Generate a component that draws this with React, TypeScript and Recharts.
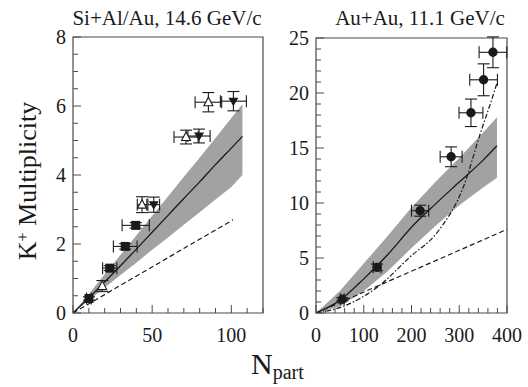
import React from "react";
import {
  ComposedChart,
  Area,
  Line,
  Scatter,
  ErrorBar,
  XAxis,
  YAxis,
  ReferenceArea,
} from "recharts";

const FONT = "'Liberation Serif', 'Times New Roman', serif";
const INK = "#1a1a1a";
const FRAME = "#4a4a4a";
const BAND = "#a2a2a2";

// ---- Si+Al/Au, 14.6 GeV/c ----
const siModelN = [0, 10, 20, 30, 40, 50, 60, 70, 80, 90, 100, 107];
const siModelLow = [0, 0.37, 0.73, 1.1, 1.46, 1.83, 2.19, 2.56, 2.92, 3.29, 3.65, 4.0];
const siModelHigh = [0, 0.55, 1.12, 1.68, 2.25, 2.82, 3.38, 3.95, 4.5, 5.07, 5.65, 6.05];
const siModelMid = [0, 0.44, 0.9, 1.37, 1.85, 2.34, 2.83, 3.32, 3.8, 4.3, 4.78, 5.12];
const siDashN = [0, 101];
const siDashK = [0, 2.7];

const siSquareN = [10.1, 23.2, 33, 39.6];
const siSquareK = [0.42, 1.3, 1.93, 2.54];
const siSquareEx = [1.5, 4.5, 7.5, 8.6];
const siSquareEy = [0.05, 0.07, 0.08, 0.08];

const siOpenTriN = [18.5, 43.6, 71.4, 85.5];
const siOpenTriK = [0.78, 3.14, 5.1, 6.11];
const siOpenTriEx = [0, 3, 7.6, 8.4];
const siOpenTriEy = [0.16, 0.23, 0.2, 0.28];

const siDownTriN = [51, 79.6, 101.3];
const siDownTriK = [3.14, 5.13, 6.14];
const siDownTriEx = [3.7, 7, 8.2];
const siDownTriEy = [0.22, 0.2, 0.28];

const siXMajor = [0, 50, 100];
const siYMajor = [0, 2, 4, 6, 8];

// ---- Au+Au, 11.1 GeV/c ----
const auModelN = [0, 50, 100, 150, 200, 250, 300, 350, 379];
const auModelLow = [0, 0.6, 2.0, 3.8, 5.9, 7.9, 9.8, 11.4, 12.3];
const auModelHigh = [0, 2.0, 4.5, 7.0, 9.6, 11.9, 14.1, 16.4, 17.8];
const auModelMid = [0, 1.15, 3.1, 5.3, 7.8, 9.9, 11.9, 13.9, 15.2];
const auDashN = [0, 400];
const auDashK = [0, 7.6];
const auDotN = [0, 57, 127, 197, 257, 309, 344, 368, 379];
const auDotK = [0, 0.6, 2.3, 5.1, 7.5, 11.5, 16.3, 19.4, 20.9];

const auCircleN = [55, 128, 218, 283, 324.5, 351, 370.6];
const auCircleK = [1.25, 4.15, 9.3, 14.2, 18.2, 21.2, 23.7];
const auCircleEx = [4, 8, 18, 23, 25, 29, 29];
const auCircleEy = [0.15, 0.3, 0.5, 0.9, 1.25, 1.45, 1.4];

const auXMajor = [0, 100, 200, 300, 400];
const auYMajor = [0, 5, 10, 15, 20, 25];

const steps = (max: number, step: number) =>
  Array.from({ length: Math.round(max / step) + 1 }, (_, i) => +(i * step).toFixed(3));

const band = (n: number[], lo: number[], hi: number[], mid: number[]) =>
  n.map((v, i) => ({ n: v, band: [lo[i], hi[i]], y: mid[i] }));

const curve = (n: number[], k: number[]) => n.map((v, i) => ({ n: v, y: k[i] }));

const points = (n: number[], k: number[], ex: number[], ey: number[]) =>
  n.map((v, i) => ({ n: v, y: k[i], ex: ex[i], ey: ey[i] }));

const Square = ({ cx, cy }: any) => (
  <rect x={cx - 4.5} y={cy - 4.5} width={9} height={9} fill={INK} />
);
const OpenTri = ({ cx, cy }: any) => (
  <polygon
    points={`${cx},${cy - 5} ${cx - 4.5},${cy + 3.5} ${cx + 4.5},${cy + 3.5}`}
    fill="#fff"
    stroke={INK}
    strokeWidth={1.1}
  />
);
const DownTri = ({ cx, cy }: any) => (
  <polygon
    points={`${cx},${cy + 5} ${cx - 5},${cy - 3.5} ${cx + 5},${cy - 3.5}`}
    fill={INK}
  />
);
const Dot = ({ cx, cy }: any) => <circle cx={cx} cy={cy} r={4.7} fill={INK} />;

const xTick = (majors: number[]) => (props: any) => {
  const { x, y, payload } = props;
  const major = majors.includes(payload.value);
  return (
    <g>
      <line x1={x} x2={x} y1={y} y2={y - (major ? 8 : 5)} stroke={FRAME} />
      {major && (
        <text x={x} y={y + 29} textAnchor="middle" fontSize={20} fontFamily={FONT} fill={INK}>
          {payload.value}
        </text>
      )}
    </g>
  );
};

const yTick = (majors: number[]) => (props: any) => {
  const { x, y, payload } = props;
  const major = majors.includes(payload.value);
  return (
    <g>
      <line x1={x} x2={x + (major ? 8 : 5)} y1={y} y2={y} stroke={FRAME} />
      {major && (
        <text x={x - 7} y={y + 7} textAnchor="end" fontSize={20} fontFamily={FONT} fill={INK}>
          {payload.value}
        </text>
      )}
    </g>
  );
};

function Panel({
  margin,
  xMax,
  yMax,
  xMajor,
  xStep,
  yMajor,
  yStep,
  model,
  dashed,
  dotted,
  children,
}: any) {
  return (
    <div style={{ position: "absolute", left: 0, top: 0 }}>
      <ComposedChart width={528} height={387} data={model} margin={margin}>
        <XAxis
          type="number"
          dataKey="n"
          domain={[0, xMax]}
          ticks={steps(xMax, xStep)}
          interval={0}
          axisLine={false}
          tickLine={false}
          tickSize={0}
          tickMargin={0}
          height={30}
          allowDataOverflow
          tick={xTick(xMajor)}
        />
        <YAxis
          type="number"
          domain={[0, yMax]}
          ticks={steps(yMax, yStep)}
          interval={0}
          axisLine={false}
          tickLine={false}
          tickSize={0}
          tickMargin={0}
          width={50}
          allowDataOverflow
          tick={yTick(yMajor)}
        />
        <Area
          dataKey="band"
          type="linear"
          fill={BAND}
          fillOpacity={1}
          stroke="none"
          isAnimationActive={false}
        />
        <Line
          dataKey="y"
          type="monotone"
          stroke={INK}
          strokeWidth={1.3}
          dot={false}
          isAnimationActive={false}
        />
        <Line
          data={dashed}
          dataKey="y"
          type="linear"
          stroke={INK}
          strokeWidth={1.2}
          strokeDasharray="5 3"
          dot={false}
          isAnimationActive={false}
        />
        {dotted && (
          <Line
            data={dotted}
            dataKey="y"
            type="monotone"
            stroke={INK}
            strokeWidth={1.2}
            strokeDasharray="5 2 1.5 2"
            dot={false}
            isAnimationActive={false}
          />
        )}
        {children}
        <ReferenceArea
          x1={0}
          x2={xMax}
          y1={0}
          y2={yMax}
          fill="none"
          stroke={FRAME}
          strokeWidth={1.2}
        />
      </ComposedChart>
    </div>
  );
}

const errorBars = [
  <ErrorBar key="ex" dataKey="ex" direction="x" width={6} stroke={INK} strokeWidth={1.1} />,
  <ErrorBar key="ey" dataKey="ey" direction="y" width={6} stroke={INK} strokeWidth={1.1} />,
];

export default function App() {
  return (
    <div
      style={{
        position: "absolute",
        left: 0,
        top: 0,
        width: 528,
        height: 387,
        background: "#fff",
        overflow: "hidden",
      }}
    >
      <Panel
        margin={{ left: 23, right: 265, top: 37, bottom: 44 }}
        xMax={120}
        yMax={8}
        xMajor={siXMajor}
        xStep={10}
        yMajor={siYMajor}
        yStep={0.5}
        model={band(siModelN, siModelLow, siModelHigh, siModelMid)}
        dashed={curve(siDashN, siDashK)}
      >
        <Scatter
          data={points(siSquareN, siSquareK, siSquareEx, siSquareEy)}
          dataKey="y"
          shape={Square}
          isAnimationActive={false}
        >
          {errorBars}
        </Scatter>
        <Scatter
          data={points(siOpenTriN, siOpenTriK, siOpenTriEx, siOpenTriEy)}
          dataKey="y"
          shape={OpenTri}
          isAnimationActive={false}
        >
          {errorBars}
        </Scatter>
        <Scatter
          data={points(siDownTriN, siDownTriK, siDownTriEx, siDownTriEy)}
          dataKey="y"
          shape={DownTri}
          isAnimationActive={false}
        >
          {errorBars}
        </Scatter>
      </Panel>
      <Panel
        margin={{ left: 266, right: 21, top: 38, bottom: 44 }}
        xMax={400}
        yMax={25}
        xMajor={auXMajor}
        xStep={20}
        yMajor={auYMajor}
        yStep={1}
        model={band(auModelN, auModelLow, auModelHigh, auModelMid)}
        dashed={curve(auDashN, auDashK)}
        dotted={curve(auDotN, auDotK)}
      >
        <Scatter
          data={points(auCircleN, auCircleK, auCircleEx, auCircleEy)}
          dataKey="y"
          shape={Dot}
          isAnimationActive={false}
        >
          {errorBars}
        </Scatter>
      </Panel>
      <svg
        width={528}
        height={387}
        style={{ position: "absolute", left: 0, top: 0, pointerEvents: "none" }}
        fontFamily={FONT}
        fill={INK}
      >
        <text x={167} y={25} textAnchor="middle" fontSize={21}>
          Si+Al/Au, 14.6 GeV/c
        </text>
        <text x={420} y={25} textAnchor="middle" fontSize={21}>
          Au+Au, 11.1 GeV/c
        </text>
        <text
          transform="translate(36,181) rotate(-90)"
          textAnchor="middle"
          fontSize={26}
        >
          K<tspan baselineShift="super" fontSize={16}>+</tspan> Multiplicity
        </text>
        <text x={251} y={374} fontSize={30}>
          N<tspan fontSize={20} dy={5}>part</tspan>
        </text>
      </svg>
    </div>
  );
}
